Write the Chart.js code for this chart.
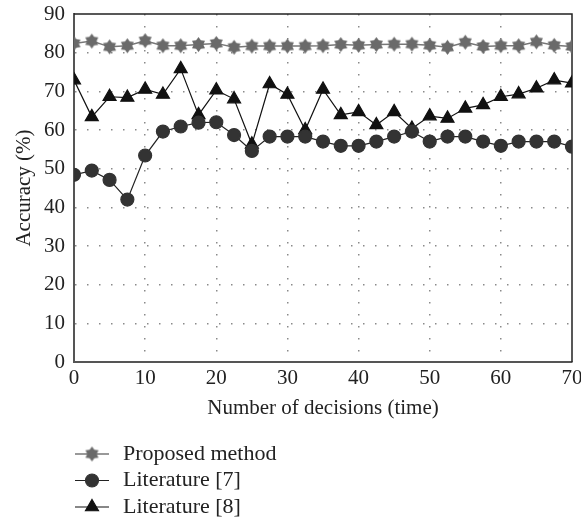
<!DOCTYPE html>
<html>
<head>
<meta charset="utf-8">
<script src="https://cdn.jsdelivr.net/npm/chart.js@4.4.1/dist/chart.umd.min.js"></script>
<style>
  html, body { margin: 0; padding: 0; background: #fff; }
</style>
</head>
<body>
<canvas id="accuracyChart" width="581" height="523"></canvas>
<script>
const decisions = [0, 2.5, 5, 7.5, 10, 12.5, 15, 17.5, 20, 22.5, 25, 27.5, 30, 32.5, 35,
    37.5, 40, 42.5, 45, 47.5, 50, 52.5, 55, 57.5, 60, 62.5, 65, 67.5, 70];
const proposed = [82.4, 83.0, 81.5, 81.8, 83.1, 81.8, 81.8, 82.1, 82.4, 81.4, 81.7, 81.7, 81.7, 81.7, 81.8,
    82.1, 81.9, 82.1, 82.2, 82.2, 81.9, 81.4, 82.7, 81.6, 81.8, 81.8, 82.8, 81.9, 81.6];
const literature7 = [48.4, 49.5, 47.1, 42.0, 53.4, 59.6, 60.9, 61.9, 62.0, 58.7, 54.6, 58.3, 58.3, 58.3, 57.0,
    55.9, 55.9, 57.0, 58.3, 59.6, 57.0, 58.3, 58.3, 57.0, 55.9, 57.0, 57.0, 57.0, 55.7];
const literature8 = [72.9, 63.4, 68.6, 68.4, 70.5, 69.2, 75.8, 63.9, 70.3, 68.0, 56.3, 71.9, 69.2, 60.0, 70.5,
    63.9, 64.7, 61.3, 64.7, 60.4, 63.6, 63.0, 65.6, 66.5, 68.6, 69.3, 70.8, 72.9, 72.1];
const seriesLabels = ['Proposed method', 'Literature [7]', 'Literature [8]'];
const xTicks = [0, 10, 20, 30, 40, 50, 60, 70];
const yTicks = [0, 10, 20, 30, 40, 50, 60, 70, 80, 90];

const serif = '"Liberation Serif", "DejaVu Serif", serif';
const fontSize = 21;

// six-pointed star marker
function makeStar(r, fill) {
    const size = Math.ceil(r * 2 + 2);
    const c = document.createElement('canvas');
    c.width = size;
    c.height = size;
    const g = c.getContext('2d');
    g.translate(size / 2, size / 2);
    g.beginPath();
    for (let i = 0; i < 12; i++) {
        const a = -Math.PI / 2 + i * Math.PI / 6;
        const rr = i % 2 ? r * 0.64 : r;
        g.lineTo(rr * Math.cos(a), rr * Math.sin(a));
    }
    g.closePath();
    g.fillStyle = fill;
    g.fill();
    return c;
}
const starImg = makeStar(7.5, '#6a6a6a');

function toPoints(values) {
    return values.map((v, i) => ({ x: decisions[i], y: v }));
}

// top and right frame lines
const framePlugin = {
    id: 'frame',
    beforeDatasetsDraw(chart) {
        const { ctx, chartArea: a } = chart;
        ctx.save();
        ctx.strokeStyle = '#222';
        ctx.lineWidth = 1.5;
        ctx.beginPath();
        ctx.moveTo(a.left, a.top);
        ctx.lineTo(a.right, a.top);
        ctx.lineTo(a.right, a.bottom);
        ctx.stroke();
        ctx.restore();
    }
};

// vertical legend below the axis title
const legendPlugin = {
    id: 'stackedLegend',
    afterDraw(chart) {
        const ctx = chart.ctx;
        ctx.save();
        ctx.font = '22px ' + serif;
        ctx.textBaseline = 'middle';
        chart.data.datasets.forEach((ds, i) => {
            const y = 454 + i * 26.5;
            ctx.strokeStyle = ds.borderColor;
            ctx.lineWidth = ds.borderWidth;
            ctx.beginPath();
            ctx.moveTo(75, y);
            ctx.lineTo(109, y);
            ctx.stroke();
            ctx.fillStyle = ds.pointBackgroundColor;
            ctx.strokeStyle = ds.pointBorderColor;
            Chart.helpers.drawPoint(ctx, { pointStyle: ds.pointStyle, radius: ds.pointRadius, rotation: 0, borderWidth: 1 }, 92, y);
            ctx.fillStyle = '#222';
            ctx.fillText(ds.label, 123, y);
        });
        ctx.restore();
    }
};

const dotted = [1.5, 10.5];

new Chart(document.getElementById('accuracyChart').getContext('2d'), {
    type: 'line',
    data: {
        datasets: [{
            label: seriesLabels[0],
            data: toPoints(proposed),
            borderColor: '#777',
            borderWidth: 1.5,
            pointStyle: starImg,
            pointRadius: 7.5,
            pointBackgroundColor: '#6a6a6a',
            pointBorderColor: '#6a6a6a'
        }, {
            label: seriesLabels[1],
            data: toPoints(literature7),
            borderColor: '#222',
            borderWidth: 1.2,
            pointStyle: 'circle',
            pointRadius: 6.5,
            pointBackgroundColor: '#333',
            pointBorderColor: '#333'
        }, {
            label: seriesLabels[2],
            data: toPoints(literature8),
            borderColor: '#111',
            borderWidth: 1.2,
            pointStyle: 'triangle',
            pointRadius: 7.5,
            pointBackgroundColor: '#111',
            pointBorderColor: '#111'
        }]
    },
    options: {
        responsive: false,
        animation: false,
        layout: { padding: { left: 0, top: 14, right: 8, bottom: 101 } },
        plugins: {
            legend: { display: false },
            tooltip: { enabled: false }
        },
        scales: {
            x: {
                type: 'linear',
                min: 0,
                max: 70,
                afterBuildTicks: s => { s.ticks = xTicks.map(v => ({ value: v })); },
                afterFit: s => { s.height = 60; s.paddingLeft = 0; s.paddingRight = 0; },
                ticks: { color: '#222', font: { family: serif, size: fontSize }, padding: 4, maxRotation: 0 },
                grid: {
                    drawTicks: false,
                    lineWidth: 1.5,
                    color: c => (c.tick && (c.tick.value === 0 || c.tick.value === 70)) ? 'rgba(0,0,0,0)' : '#8a8a8a'
                },
                border: { display: true, color: '#555', width: 2, dash: dotted },
                title: {
                    display: true,
                    text: 'Number of decisions (time)',
                    color: '#222',
                    font: { family: serif, size: fontSize },
                    padding: { top: 0, bottom: 1 }
                }
            },
            y: {
                min: 0,
                max: 90,
                afterBuildTicks: s => { s.ticks = yTicks.map(v => ({ value: v })); },
                afterFit: s => { s.width = 74; s.paddingTop = 0; s.paddingBottom = 0; },
                ticks: { color: '#222', font: { family: serif, size: fontSize }, padding: 9 },
                grid: {
                    drawTicks: false,
                    lineWidth: 1.5,
                    color: c => (c.tick && (c.tick.value === 0 || c.tick.value === 90)) ? 'rgba(0,0,0,0)' : '#8a8a8a'
                },
                border: { display: true, color: '#555', width: 2, dash: dotted },
                title: {
                    display: true,
                    text: 'Accuracy (%)',
                    color: '#222',
                    font: { family: serif, size: fontSize },
                    padding: { top: 12, bottom: 0 }
                }
            }
        }
    },
    plugins: [framePlugin, legendPlugin]
});
</script>
</body>
</html>
